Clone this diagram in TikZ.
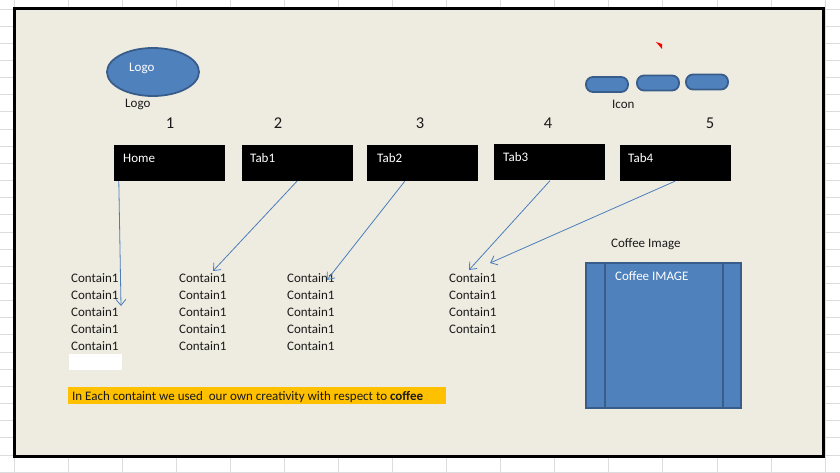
\documentclass[tikz,border=0pt]{standalone}
\usepackage{fontspec}
\setmainfont{Carlito}
\usetikzlibrary{arrows.meta,shapes.geometric}
\definecolor{bgtan}{HTML}{EEECE1}
\definecolor{gridgray}{HTML}{DADCDD}
\definecolor{shapeblue}{HTML}{4F81BD}
\definecolor{shapeborder}{HTML}{385D8A}
\definecolor{arrowblue}{HTML}{4A7EBB}
\definecolor{hlyellow}{HTML}{FFC000}
\definecolor{txtdark}{HTML}{1A1A1A}
\begin{document}
\begin{tikzpicture}[x=1pt,y=-1pt,
  txt/.style={font=\fontsize{13}{15}\selectfont, text=txtdark, anchor=west, inner sep=0pt},
  numtxt/.style={font=\fontsize{16.5}{18}\selectfont, text=txtdark, inner sep=0pt},
  whitetxt/.style={txt, text=white},
  tabbox/.style={fill=black, draw=none, minimum width=111pt, minimum height=36pt, inner sep=0pt},
  blueshape/.style={fill=shapeblue, draw=shapeborder, line width=1.8pt},
  pill/.style={blueshape, rounded corners=7pt, minimum width=42pt, minimum height=15pt, inner sep=0pt},
  link/.style={draw=arrowblue, line width=0.8pt, -{Straight Barb[length=6pt,width=10pt]}}
]
\useasboundingbox (0,0) rectangle (840,473);
% spreadsheet background
\fill[white] (0,0) rectangle (840,473);
\foreach \k in {0,...,15} {
  \draw[gridgray, line width=0.8pt] ({14+54.07*\k},0) -- ({14+54.07*\k},473);
}
\foreach \k in {0,...,27} {
  \draw[gridgray, line width=0.8pt] (0,{9+17.15*\k}) -- (840,{9+17.15*\k});
}
% frame
\draw[line width=3pt, fill=bgtan] (14,9) rectangle (823,456);

% logo
\node[txt] (logolbl) at (125,104) {Logo};
\node[blueshape, ellipse, minimum width=92pt, minimum height=48pt, inner sep=0pt] (logo) at (153,72) {};
\node[whitetxt] (logotxt) at (129,68) {Logo};

% comment marker
\fill[red] (656,42) -- (662,44) -- (662,49) -- cycle;

% icons
\node[pill] (icon1) at (607,84.5) {};
\node[pill] (icon2) at (658,83) {};
\node[pill] (icon3) at (707,82) {};
\node[txt] (iconlbl) at (612,104) {Icon};

% numbers
\node[numtxt] (n1) at (170,123) {1};
\node[numtxt] (n2) at (278,123) {2};
\node[numtxt] (n3) at (420,123) {3};
\node[numtxt] (n4) at (548,123) {4};
\node[numtxt] (n5) at (710,123) {5};

% tabs
\node[tabbox] (home) at (169.5,163) {};
\node[tabbox] (tab1) at (297,163) {};
\node[tabbox] (tab2) at (422.5,163) {};
\node[tabbox] (tab3) at (549,162.5) {};
\node[tabbox] (tab4) at (675,163) {};
\node[whitetxt] (hometxt) at (123,158) {Home};
\node[whitetxt] (tab1txt) at (250,158) {Tab1};
\node[whitetxt] (tab2txt) at (377,158) {Tab2};
\node[whitetxt] (tab3txt) at (503,157) {Tab3};
\node[whitetxt] (tab4txt) at (628,158) {Tab4};

% contents
\foreach \c/\x/\n in {a/71/5, b/179/5, c/287/5, d/449/4} {
  \foreach \r in {1,...,\n} {
    \node[txt] (\c\r) at (\x,{278+17*(\r-1)}) {Contain1};
  }
}

% arrow targets
\coordinate (endh) at (121,306);
\coordinate (end1) at (213,271);
\coordinate (end2) at (327,280);
\coordinate (end3) at (469,270);
\coordinate (end4) at (490,263);

\draw[link] ([xshift=5pt]home.south west) -- (endh);
\draw[link] (tab1.south) -- (end1);
\draw[link] ([xshift=38pt]tab2.south west) -- (end2);
\draw[link] ([xshift=1pt]tab3.south) -- (end3);
\draw[link] (tab4.south) -- (end4);

% white cell
\fill[white] (69,354) rectangle (122,370);

% highlighted note
\node[fill=hlyellow, minimum width=378pt, minimum height=17pt, inner sep=0pt] (note) at (257,395.5) {};
\node[txt] (notetxt) at (72,397) {In Each containt we used\ \ our own creativity with respect to \textbf{coffee}};

% coffee image
\node[txt] (coffeelbl) at (611,244) {Coffee Image};
\node[blueshape, minimum width=155pt, minimum height=145pt, inner sep=0pt] (coffee) at (663.5,335.5) {};
\draw[shapeborder, line width=1.8pt] ([xshift=20pt]coffee.north west) -- ([xshift=20pt]coffee.south west);
\draw[shapeborder, line width=1.8pt] ([xshift=-19pt]coffee.north east) -- ([xshift=-19pt]coffee.south east);
\node[whitetxt] (coffeetxt) at (615,276) {Coffee IMAGE};
\end{tikzpicture}
\end{document}
